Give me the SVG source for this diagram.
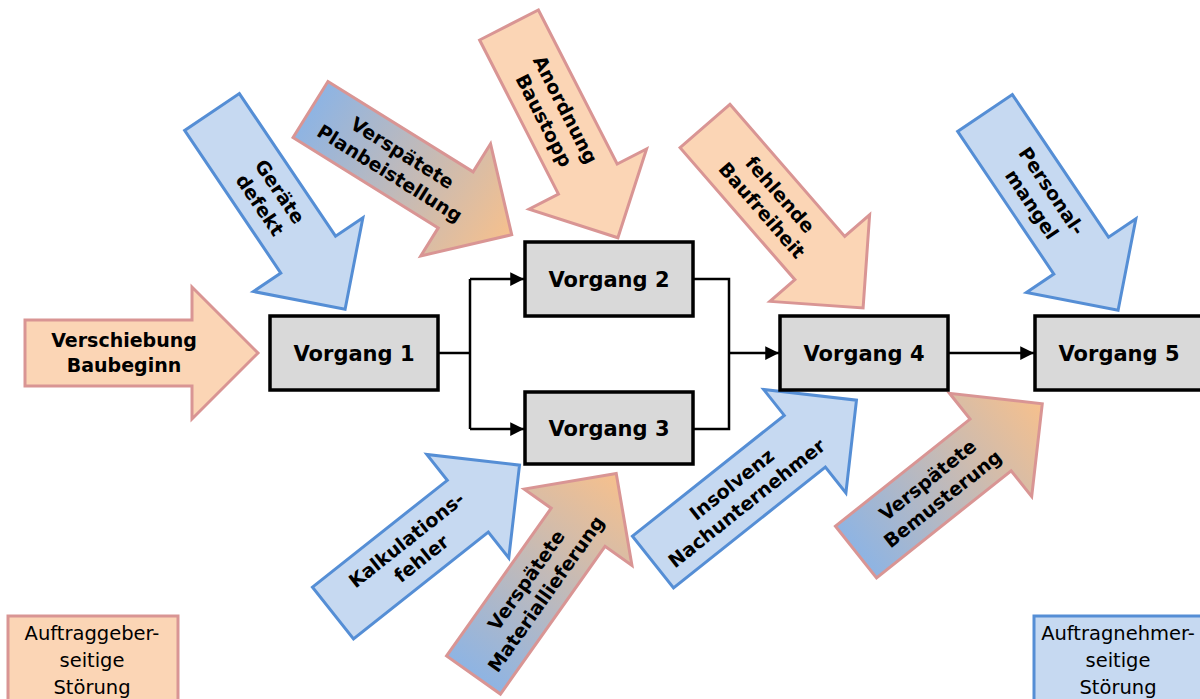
<svg xmlns="http://www.w3.org/2000/svg" width="1200" height="699" viewBox="0 0 1200 699">
<style>
.ag{fill:#FBD5B5;stroke:#D99594;stroke-width:3;stroke-linejoin:miter}
.an{fill:#C6D9F1;stroke:#558ED5;stroke-width:3;stroke-linejoin:miter}
.gr{fill:url(#grad);stroke:#D99594;stroke-width:3;stroke-linejoin:miter}
.box{fill:#D9D9D9;stroke:#000;stroke-width:3.5}
.nt{font-family:"DejaVu Sans",Verdana,sans-serif;font-weight:bold;font-size:21px;fill:#000;text-anchor:middle}
.at{font-family:"DejaVu Sans",Verdana,sans-serif;font-weight:bold;font-size:19px;fill:#000;text-anchor:middle}
.lt{font-family:"DejaVu Sans",Verdana,sans-serif;font-size:19.5px;fill:#000;text-anchor:middle}
.con{fill:none;stroke:#000;stroke-width:2.5}
</style>
<defs>
<linearGradient id="grad" x1="0" y1="0" x2="1" y2="0">
<stop offset="0" stop-color="#8EB4E3"/>
<stop offset="1" stop-color="#F6C08D"/>
</linearGradient>
<marker id="ah" viewBox="0 0 10 10" refX="10" refY="5" markerWidth="5.5" markerHeight="5.5" orient="auto" markerUnits="strokeWidth">
<path d="M0,0 L10,5 L0,10 z" fill="#000"/>
</marker>
</defs>

<g id="legend-ag">
<rect x="8" y="616" width="170" height="100" fill="#FBD5B5" stroke="#D99594" stroke-width="3"/>
<text class="lt" x="92" y="640">Auftraggeber-</text>
<text class="lt" x="92" y="667">seitige</text>
<text class="lt" x="92" y="694">Störung</text>
</g>
<g id="legend-an">
<rect x="1034" y="616" width="172" height="100" fill="#C6D9F1" stroke="#558ED5" stroke-width="3"/>
<text class="lt" x="1118" y="640">Auftragnehmer-</text>
<text class="lt" x="1118" y="667">seitige</text>
<text class="lt" x="1118" y="694">Störung</text>
</g>

<g id="a-verschiebung" transform="translate(25,353)">
<polygon class="ag" points="0,-33 167,-33 167,-66 233,0 167,66 167,33 0,33"/>
<text class="at" x="99" y="-6">Verschiebung</text>
<text class="at" x="99" y="19">Baubeginn</text>
</g>
<g id="a-geraete" transform="translate(212,112) rotate(56)">
<polygon class="an" points="0,-33 172,-33 172,-66 238,0 172,66 172,33 0,33"/>
<text class="at" x="104" y="-5">Geräte</text>
<text class="at" x="104" y="19">defekt</text>
</g>
<g id="a-plan" transform="translate(310.5,109.5) rotate(31.9)">
<polygon class="gr" points="0,-33 171,-33 171,-66 237,0 171,66 171,33 0,33"/>
<text class="at" x="101" y="-5">Verspätete</text>
<text class="at" x="101" y="19">Planbeistellung</text>
</g>
<g id="a-anordnung" transform="translate(509,25) rotate(62.9)">
<polygon class="ag" points="0,-33 173,-33 173,-66 239,0 173,66 173,33 0,33"/>
<text class="at" x="101" y="-5">Anordnung</text>
<text class="at" x="101" y="19">Baustopp</text>
</g>
<g id="a-fehlende" transform="translate(705,126) rotate(49)">
<polygon class="ag" points="0,-33 175,-33 175,-66 241,0 175,66 175,33 0,33"/>
<text class="at" x="101" y="-5">fehlende</text>
<text class="at" x="101" y="19">Baufreiheit</text>
</g>
<g id="a-personal" transform="translate(985,113) rotate(56)">
<polygon class="an" points="0,-33 172,-33 172,-66 238,0 172,66 172,33 0,33"/>
<text class="at" x="102" y="-5">Personal-</text>
<text class="at" x="102" y="19">mangel</text>
</g>
<g id="a-kalkulation" transform="translate(333,613) rotate(-38.4)">
<polygon class="an" points="0,-33 172,-33 172,-66 238,0 172,66 172,33 0,33"/>
<text class="at" x="103" y="-5">Kalkulations-</text>
<text class="at" x="103" y="19">fehler</text>
</g>
<g id="a-material" transform="translate(473.5,675) rotate(-54.7)">
<polygon class="gr" points="0,-33 181,-33 181,-66 247,0 181,66 181,33 0,33"/>
<text class="at" x="108" y="-5">Verspätete</text>
<text class="at" x="108" y="19">Materiallieferung</text>
</g>
<g id="a-insolvenz" transform="translate(653,562) rotate(-38.5)">
<polygon class="an" points="0,-33 194,-33 194,-66 260,0 194,66 194,33 0,33"/>
<text class="at" x="110" y="-5">Insolvenz</text>
<text class="at" x="110" y="19">Nachunternehmer</text>
</g>
<g id="a-bemusterung" transform="translate(856,552) rotate(-38.5)">
<polygon class="gr" points="0,-33 172,-33 172,-66 238,0 172,66 172,33 0,33"/>
<text class="at" x="101" y="-5">Verspätete</text>
<text class="at" x="101" y="19">Bemusterung</text>
</g>

<g id="connectors">
<polyline class="con" points="438,353 470,353"/>
<polyline class="con" points="470,279 470,429"/>
<polyline class="con" points="470,279 524,279" marker-end="url(#ah)"/>
<polyline class="con" points="470,429 524,429" marker-end="url(#ah)"/>
<polyline class="con" points="693,279 729,279 729,429 693,429"/>
<polyline class="con" points="729,353 779,353" marker-end="url(#ah)"/>
<polyline class="con" points="948,353 1034,353" marker-end="url(#ah)"/>
</g>

<g id="vorgang1">
<rect class="box" x="270" y="316" width="168" height="74"/>
<text class="nt" x="354" y="361">Vorgang 1</text>
</g>
<g id="vorgang2">
<rect class="box" x="525" y="242" width="168" height="74"/>
<text class="nt" x="609" y="287">Vorgang 2</text>
</g>
<g id="vorgang3">
<rect class="box" x="525" y="392" width="168" height="72"/>
<text class="nt" x="609" y="436">Vorgang 3</text>
</g>
<g id="vorgang4">
<rect class="box" x="780" y="316" width="168" height="74"/>
<text class="nt" x="864" y="361">Vorgang 4</text>
</g>
<g id="vorgang5">
<rect class="box" x="1035" y="316" width="175" height="74"/>
<text class="nt" x="1119" y="361">Vorgang 5</text>
</g>
</svg>
